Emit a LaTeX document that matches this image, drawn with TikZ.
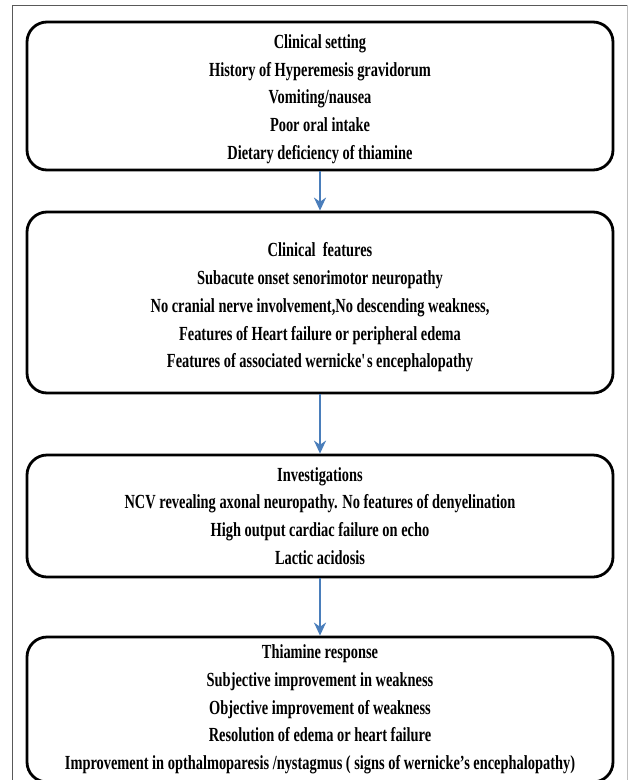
\documentclass[tikz,border=0pt]{standalone}
\usepackage{fontspec}
\setmainfont[FakeStretch=0.72]{Liberation Serif}
\usetikzlibrary{arrows.meta}
\definecolor{arrblue}{HTML}{4A7EBB}
\tikzset{
  flowbox/.style={draw=black, line width=2.8pt, rounded corners=20pt,
    minimum width=586pt, inner sep=0pt, align=center,
    font=\fontsize{20}{27.7}\selectfont\bfseries},
  flowarrow/.style={draw=arrblue, line width=2.5pt,
    -{Stealth[length=13pt,width=12pt]}}
}
\begin{document}
\begin{tikzpicture}[x=1pt,y=-1pt]
\clip (0,0) rectangle (630,780);
\useasboundingbox (0,0) rectangle (630,780);
\fill[white] (0,0) rectangle (630,780);
% outer frame
\draw[black!65, line width=1pt] (12.5,790) -- (12.5,5) -- (627,5);
\draw[black!25, line width=1pt] (627,5) -- (627,790);
% boxes
\node[flowbox, minimum height=148pt] (b1) at (320,96)
  {\rule{0pt}{20pt}Clinical setting\\History of Hyperemesis gravidorum\\Vomiting/nausea\\Poor oral intake\\Dietary deficiency of thiamine};
\node[flowbox, minimum height=181pt] (b2) at (320,302.5)
  {\rule{0pt}{24pt}Clinical\ \ features\\Subacute onset senorimotor neuropathy\\No cranial nerve involvement,No descending weakness,\\Features of Heart failure or peripheral edema\\Features of associated wernicke\textquotesingle s encephalopathy};
\node[flowbox, minimum height=122pt] (b3) at (320,516)
  {Investigations\\NCV revealing axonal neuropathy. No features of denyelination\\High output cardiac failure on echo\\Lactic acidosis};
\node[flowbox, minimum height=145pt] (b4) at (320,709.5)
  {Thiamine response\\Subjective improvement in weakness\\Objective improvement of weakness\\Resolution of edema or heart failure\\Improvement in opthalmoparesis /nystagmus ( signs of wernicke’s encephalopathy)};
% arrows
\draw[flowarrow] (b1) -- (b2);
\draw[flowarrow] (b2) -- (b3);
\draw[flowarrow] (b3) -- (b4);
\end{tikzpicture}
\end{document}
